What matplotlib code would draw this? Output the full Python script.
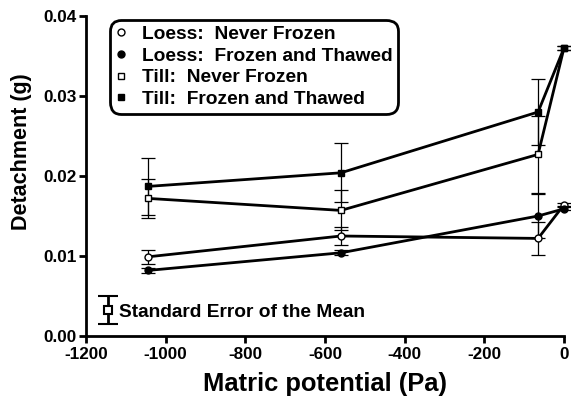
import matplotlib
matplotlib.use("Agg")
import matplotlib.pyplot as plt
import numpy as np

plt.rcParams['font.family'] = ['Liberation Sans', 'DejaVu Sans']
plt.rcParams['font.weight'] = 'bold'
plt.rcParams['axes.unicode_minus'] = False

x = [-1044, -560, -65, 0]
loess_nf = [0.0099, 0.0125, 0.0122, 0.0164]
loess_nf_err = [0.0009, 0.0011, 0.0021, 0.0002]
loess_ft = [0.0082, 0.0104, 0.0150, 0.0159]
loess_ft_err = [0.0003, 0.0003, 0.0027, 0.0002]
till_nf = [0.0172, 0.0157, 0.0227, 0.0360]
till_nf_err = [0.0024, 0.0025, 0.0048, 0.0002]
till_ft = [0.0187, 0.0204, 0.0280, 0.0360]
till_ft_err = [0.0036, 0.0037, 0.0041, 0.0002]

labels = ["Loess:  Never Frozen", "Loess:  Frozen and Thawed",
          "Till:  Never Frozen", "Till:  Frozen and Thawed"]

fig = plt.figure(figsize=(5.71, 3.96), dpi=100)
ax = fig.add_axes([0.1506, 0.1515, 0.8371, 0.8081])

series = [
    (loess_nf, loess_nf_err, 'o', 'white'),
    (loess_ft, loess_ft_err, 'o', 'black'),
    (till_nf, till_nf_err, 's', 'white'),
    (till_ft, till_ft_err, 's', 'black'),
]
handles = []
for (y, e, m, fc), lab in zip(series, labels):
    eb = ax.errorbar(x, y, yerr=e, fmt='none', ecolor='black', elinewidth=0.9,
                     capsize=5, capthick=0.9, zorder=2)
    for art in eb.get_children():
        art.set_clip_on(False)
    ax.plot(x, y, color='black', lw=2.0, zorder=3, clip_on=False)
    h, = ax.plot(x, y, linestyle='none', marker=m, markersize=5,
                 markerfacecolor=fc, markeredgecolor='black', markeredgewidth=1.0,
                 zorder=4, label=lab, clip_on=False)
    handles.append(h)

# Standard error key
ax.errorbar([-1145], [0.0032], yerr=[[0.0017], [0.0018]], fmt='s', markersize=6,
            markerfacecolor='white', markeredgecolor='black', markeredgewidth=1.5,
            ecolor='black', elinewidth=2, capsize=7, capthick=2, clip_on=False)
ax.text(-1117, 0.0030, "Standard Error of the Mean", fontsize=13.8,
        fontweight='bold', va='center', ha='left')

ax.set_xlim(-1200, 0)
ax.set_ylim(0, 0.04)
ax.set_xticks([-1200, -1000, -800, -600, -400, -200, 0])
ax.set_yticks([0.00, 0.01, 0.02, 0.03, 0.04])
ax.set_yticklabels(["0.00", "0.01", "0.02", "0.03", "0.04"])
ax.tick_params(axis='both', direction='out', length=5, width=2, labelsize=12.3)
ax.tick_params(axis='x', pad=3)
ax.tick_params(axis='y', pad=2)
for lab in ax.get_xticklabels() + ax.get_yticklabels():
    lab.set_fontweight('bold')
ax.spines['top'].set_visible(False)
ax.spines['right'].set_visible(False)
ax.spines['left'].set_linewidth(2)
ax.spines['bottom'].set_linewidth(2)
ax.set_xlabel("Matric potential (Pa)", fontsize=18.4, fontweight='bold', labelpad=7)
ax.set_ylabel("Detachment (g)", fontsize=15.5, fontweight='bold')
ax.yaxis.set_label_coords(-0.112, 0.575)

leg = ax.legend(handles=handles, loc='upper left', bbox_to_anchor=(0.042, 1.0),
                frameon=True, fancybox=True, handlelength=0.6,
                handletextpad=0.75, borderpad=0.3, labelspacing=0.22,
                borderaxespad=0.2,
                prop={'weight': 'bold', 'size': 13.8})
fr = leg.get_frame()
fr.set_edgecolor('black')
fr.set_linewidth(2)
fr.set_alpha(1)
fr.set_boxstyle('round', pad=0, rounding_size=0.6)

fig.savefig("out.png", dpi=100)
